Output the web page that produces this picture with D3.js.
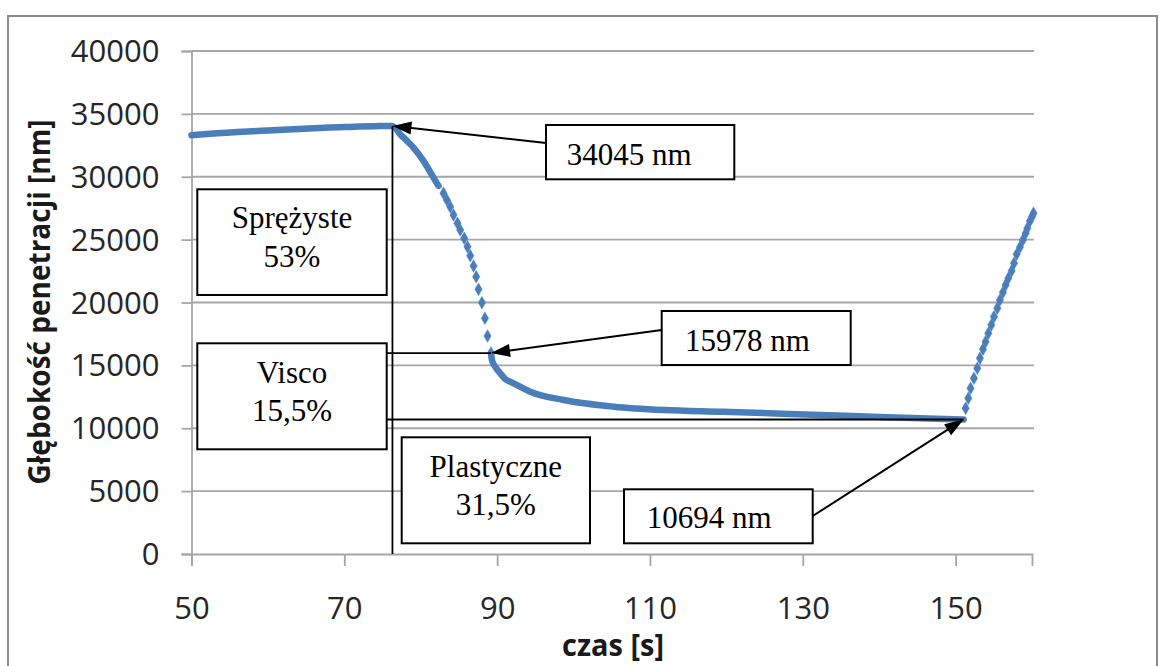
<!DOCTYPE html>
<html>
<head>
<meta charset="utf-8">
<script src="https://cdn.jsdelivr.net/npm/d3@7"></script>
<style>
  html, body { margin: 0; padding: 0; background: #fff; overflow: hidden; }
  svg { display: block; }
</style>
</head>
<body>
<svg id="chart" width="1167" height="666"></svg>
<script>
// ---------------- DATA ----------------
const xTickValues = [50, 70, 90, 110, 130, 150];
const yTickValues = [0, 5000, 10000, 15000, 20000, 25000, 30000, 35000, 40000];
const xTitle = "czas [s]";
const yTitle = "Głębokość penetracji [nm]";

// dense part: hold at max load + start of unloading (drawn as continuous band)
const holdTime  = [50, 52, 54, 56, 58, 60, 62, 64, 66, 68, 70, 72, 74, 76.3, 77.3, 78.2, 79.05, 80.36, 81.67, 82.33];
const holdDepth = [33300, 33400, 33480, 33560, 33620, 33680, 33740, 33800, 33860, 33910, 33950, 33990, 34020, 34045, 33385, 32850, 32320, 31260, 29930, 29270];

// sparse part of unloading (individual markers)
const unloadTime  = [82.98, 83.42, 83.86, 84.29, 84.81, 85.17, 85.69, 86.12, 86.48, 86.91, 87.26, 87.56, 88.01, 88.40, 88.74, 89.2];
const unloadDepth = [28684, 28151, 27618, 26958, 26298, 25765, 25105, 24437, 23722, 22903, 22052, 21050, 19984, 18744, 17336, 15978];

// dense part: recovery at low load
const creepTime  = [89.2, 89.32, 89.75, 90.4, 91.0, 92.15, 94.33, 98.7, 105.25, 111.8, 119.5, 132.3, 141.05, 151.05];
const creepDepth = [15978, 15427, 14895, 14370, 13950, 13574, 12906, 12246, 11714, 11451, 11316, 11054, 10871, 10694];

// sparse part: reloading (individual markers)
const reloadTime  = [151.31, 151.66, 151.96, 152.40, 152.84, 153.18, 153.58, 153.93, 154.28, 154.67, 155.02, 155.46, 155.80, 156.20, 156.55, 156.90, 157.33, 157.64, 157.99, 158.42, 158.81, 159.17, 159.39, 159.73, 160.0, 160.2];
const reloadDepth = [11586, 12382, 13177, 13972, 14767, 15563, 16278, 16883, 17550, 18211, 18871, 19539, 20199, 20811, 21392, 21924, 22505, 23117, 23833, 24390, 24970, 25503, 25901, 26481, 26823, 27093];

// labelled points
const markTime  = [76.3, 89.2, 151.05];
const markDepth = [34045, 15978, 10694];
const markLabels = ["34045 nm", "15978 nm", "10694 nm"];

// share labels
const shareNames  = ["Sprężyste", "Visco", "Plastyczne"];
const shareValues = ["53%", "15,5%", "31,5%"];

// ---------------- LAYOUT ----------------
const svg = d3.select("#chart");
const X0 = 191.5, X1 = 1032, Y0 = 554, Y1 = 51;
const x = d3.scaleLinear().domain([50, 160]).range([X0, X1]);
const y = d3.scaleLinear().domain([0, 40000]).range([Y0, Y1]);

const gridColor = "#a6a6a6";
const blue = "#4a7ebb";
const serif = "'Liberation Serif', 'Times New Roman', serif";
const sans = "'Open Sans', 'Liberation Sans', sans-serif";

// outer chart border
svg.append("rect")
  .attr("x", 8).attr("y", 16).attr("width", 1149).attr("height", 700)
  .attr("fill", "none").attr("stroke", "#8c8c8c").attr("stroke-width", 2);

// horizontal gridlines
svg.append("g").selectAll("line")
  .data(yTickValues.filter(d => d > 0))
  .join("line")
  .attr("x1", X0).attr("x2", X1 + 2)
  .attr("y1", d => y(d)).attr("y2", d => y(d))
  .attr("stroke", gridColor).attr("stroke-width", 1.8);

// y axis
const yAxis = d3.axisLeft(y).tickValues(yTickValues).tickSize(10).tickPadding(22).tickFormat(d3.format("d"));
const gy = svg.append("g").attr("transform", `translate(${X0},0)`).call(yAxis);
gy.select(".domain").attr("stroke", gridColor).attr("stroke-width", 1.8);
gy.selectAll(".tick line").attr("stroke", gridColor).attr("stroke-width", 1.8);
gy.selectAll(".tick text")
  .attr("font-family", sans).attr("font-size", 31).attr("fill", "#262626")
  .attr("dy", "0.34em");

// x axis
const xAxis = d3.axisBottom(x).tickValues(xTickValues).tickSize(12).tickPadding(31).tickFormat(d3.format("d"));
const gx = svg.append("g").attr("transform", `translate(0,${Y0})`).call(xAxis);
gx.select(".domain").attr("stroke", gridColor).attr("stroke-width", 1.8);
gx.selectAll(".tick line").attr("stroke", gridColor).attr("stroke-width", 1.8);
gx.selectAll(".tick text")
  .attr("font-family", sans).attr("font-size", 31).attr("fill", "#262626")
  .attr("dy", "0.71em");

// axis titles
svg.append("text")
  .attr("transform", "translate(50,302) rotate(-90)")
  .attr("text-anchor", "middle")
  .attr("font-family", sans).attr("font-weight", "bold").attr("font-size", 31)
  .attr("fill", "#1a1a1a")
  .attr("textLength", 365).attr("lengthAdjust", "spacingAndGlyphs")
  .text(yTitle);

svg.append("text")
  .attr("x", 613).attr("y", 656)
  .attr("text-anchor", "middle")
  .attr("font-family", sans).attr("font-weight", "bold").attr("font-size", 30)
  .attr("fill", "#1a1a1a")
  .attr("textLength", 102).attr("lengthAdjust", "spacingAndGlyphs")
  .text(xTitle);

// ---------------- SERIES ----------------
const line = d3.line().x(d => x(d[0])).y(d => y(d[1])).curve(d3.curveMonotoneX);
const zip = (a, b) => a.map((v, i) => [v, b[i]]);

[zip(holdTime, holdDepth), zip(creepTime, creepDepth)].forEach(seg => {
  svg.append("path")
    .attr("d", line(seg))
    .attr("fill", "none")
    .attr("stroke", blue)
    .attr("stroke-width", 6.5)
    .attr("stroke-linecap", "round")
    .attr("stroke-linejoin", "round");
});

const diamond = d3.symbol().type(d3.symbolDiamond).size(46);
svg.append("g").selectAll("path")
  .data(zip(unloadTime, unloadDepth).concat(zip(reloadTime, reloadDepth)))
  .join("path")
  .attr("d", diamond)
  .attr("transform", d => `translate(${x(d[0])},${y(d[1])})`)
  .attr("fill", blue)
  .attr("stroke", blue).attr("stroke-width", 1).attr("stroke-opacity", 0.5);

// ---------------- ANNOTATIONS ----------------
const ann = svg.append("g");
const boxStroke = 2;

// guide lines
ann.append("line") // vertical line at peak
  .attr("x1", x(markTime[0])).attr("x2", x(markTime[0]))
  .attr("y1", y(markDepth[0])).attr("y2", Y0)
  .attr("stroke", "#000").attr("stroke-width", 1.8);
ann.append("line") // horizontal at 15978
  .attr("x1", 386.7).attr("x2", x(markTime[1]))
  .attr("y1", y(markDepth[1])).attr("y2", y(markDepth[1]))
  .attr("stroke", "#000").attr("stroke-width", 1.8);
ann.append("line") // horizontal at 10694
  .attr("x1", 386.7).attr("x2", x(markTime[2]))
  .attr("y1", y(markDepth[2])).attr("y2", y(markDepth[2]))
  .attr("stroke", "#000").attr("stroke-width", 1.8);

// arrows (tail positions are box anchors, heads at labelled data points)
const arrowTails = [[546, 143], [661.7, 330], [812.7, 516]];
function arrow(x1, y1, x2, y2) {
  const L = 19, W = 6.5;
  const dx = x2 - x1, dy = y2 - y1, len = Math.hypot(dx, dy);
  const ux = dx / len, uy = dy / len;
  const bx = x2 - ux * L, by = y2 - uy * L;
  ann.append("line")
    .attr("x1", x1).attr("y1", y1).attr("x2", bx + ux * 2).attr("y2", by + uy * 2)
    .attr("stroke", "#000").attr("stroke-width", 2);
  ann.append("path")
    .attr("d", `M${x2},${y2} L${bx - uy * W},${by + ux * W} L${bx + uy * W},${by - ux * W} Z`)
    .attr("fill", "#000");
}
markTime.forEach((t, i) => arrow(arrowTails[i][0], arrowTails[i][1], x(t), y(markDepth[i])));

// share boxes
const shareBoxes = [
  {x: 197.3, y: 189.3, w: 189.4, h: 105.7, b1: 228.3, b2: 266.7},
  {x: 197.3, y: 343.3, w: 189.4, h: 106.0, b1: 382.7, b2: 420.7},
  {x: 401.7, y: 437.3, w: 188.3, h: 106.0, b1: 476.7, b2: 515.0}
];
shareBoxes.forEach((b, i) => {
  ann.append("rect")
    .attr("x", b.x).attr("y", b.y).attr("width", b.w).attr("height", b.h)
    .attr("fill", "#fff").attr("stroke", "#000").attr("stroke-width", boxStroke);
  ann.append("text")
    .attr("x", b.x + b.w / 2).attr("y", b.b1).attr("text-anchor", "middle")
    .attr("font-family", serif).attr("font-size", 31).attr("fill", "#000")
    .text(shareNames[i]);
  ann.append("text")
    .attr("x", b.x + b.w / 2).attr("y", b.b2).attr("text-anchor", "middle")
    .attr("font-family", serif).attr("font-size", 31).attr("fill", "#000")
    .text(shareValues[i]);
});

// value boxes
const valueBoxes = [
  {x: 546, y: 125, w: 188.3, h: 54.3, tx: 566.7, ty: 165},
  {x: 661.7, y: 311, w: 189, h: 54, tx: 685, ty: 350.7},
  {x: 624, y: 489.3, w: 188.7, h: 54, tx: 646.7, ty: 528.3}
];
valueBoxes.forEach((b, i) => {
  ann.append("rect")
    .attr("x", b.x).attr("y", b.y).attr("width", b.w).attr("height", b.h)
    .attr("fill", "#fff").attr("stroke", "#000").attr("stroke-width", boxStroke);
  ann.append("text")
    .attr("x", b.tx).attr("y", b.ty)
    .attr("font-family", serif).attr("font-size", 31).attr("fill", "#000")
    .text(markLabels[i]);
});
</script>
</body>
</html>
